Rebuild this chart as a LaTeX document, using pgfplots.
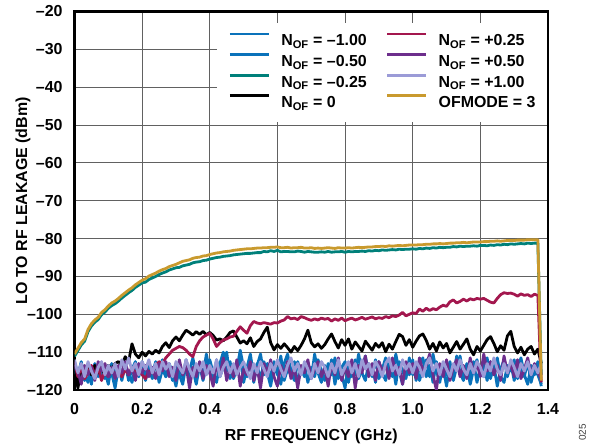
\documentclass[border=0pt]{standalone}
\usepackage{fontspec}
\setmainfont{Liberation Sans}
\usepackage{pgfplots}
\usepackage{pgfplotstable}
\pgfplotsset{compat=1.18}

\definecolor{cblue}{HTML}{0A72BA}
\definecolor{cteal}{HTML}{00807A}
\definecolor{cred}{HTML}{A3174E}
\definecolor{cpurple}{HTML}{6D2E8C}
\definecolor{clav}{HTML}{9B9BD7}
\definecolor{cgold}{HTML}{C99A2E}

% LO-to-RF leakage (dBm) versus RF frequency (GHz), one column per N_OF setting
\pgfplotstableread{
f    m100   m050   m025   z      p025   p050   p100   of3
0.00 -113.5 -114.0 -111.1 -113.0 -112.5 -113.5 -112.0 -110.5
0.01 -116.0 -117.5 -109.6 -119.5 -116.5 -115.0 -115.5 -109.0
0.02 -112.5 -113.0 -108.1 -114.5 -114.0 -118.5 -113.0 -107.5
0.03 -117.5 -115.5 -107.1 -116.5 -117.0 -113.5 -116.5 -106.5
0.04 -114.0 -118.0 -104.6 -114.0 -115.5 -116.0 -112.5 -104.0
0.05 -118.5 -114.5 -103.1 -116.0 -113.5 -114.0 -115.0 -102.5
0.06 -113.0 -116.5 -102.1 -113.5 -116.0 -117.5 -117.0 -101.5
0.07 -116.5 -113.5 -101.4 -115.5 -114.0 -112.5 -114.0 -100.8
0.08 -114.5 -117.0 -100.1 -114.0 -117.5 -115.0 -112.5 -99.5
0.09 -117.0 -115.0 -99.4  -116.0 -115.0 -113.0 -116.0 -98.8
0.10 -113.5 -118.5 -98.4  -113.5 -116.5 -116.5 -113.5 -97.8
0.11 -115.5 -113.0 -97.7  -114.5 -114.5 -114.0 -115.5 -97.0
0.12 -119.5 -116.0 -97.2  -113.0 -116.0 -117.0 -113.0 -96.5
0.13 -114.0 -114.0 -96.5  -112.5 -115.0 -113.5 -116.5 -95.8
0.14 -116.5 -117.5 -95.7  -113.5 -116.5 -115.5 -112.0 -95.0
0.15 -113.0 -113.5 -95.0  -111.2 -114.5 -112.5 -114.5 -94.3
0.16 -117.5 -115.5 -94.3  -112.5 -116.0 -116.0 -111.5 -93.6
0.17 -114.5 -118.0 -93.7  -107.8 -114.0 -114.0 -115.0 -93.0
0.18 -112.5 -114.0 -92.9  -110.5 -115.5 -117.5 -113.0 -92.2
0.19 -116.0 -116.5 -92.3  -111.5 -114.5 -113.0 -116.0 -91.6
0.20 -114.0 -112.5 -91.7  -110.0 -116.0 -115.5 -112.5 -91.0
0.21 -117.5 -116.0 -91.5  -111.0 -117.0 -113.5 -114.5 -90.6
0.22 -113.5 -114.5 -90.8  -109.8 -115.0 -116.5 -112.0 -89.9
0.23 -116.0 -117.0 -90.4  -110.5 -115.5 -114.0 -115.5 -89.5
0.24 -112.5 -113.0 -90.0  -109.5 -113.5 -117.0 -113.0 -89.1
0.25 -118.0 -115.5 -89.5  -110.2 -112.5 -113.0 -116.0 -88.6
0.26 -114.5 -112.0 -89.1  -108.5 -113.0 -115.0 -112.5 -88.2
0.27 -116.5 -116.5 -88.8  -107.5 -111.5 -112.5 -114.5 -87.9
0.28 -113.0 -114.0 -88.3  -108.8 -110.5 -116.5 -113.0 -87.4
0.29 -115.5 -117.5 -88.0  -107.0 -109.5 -114.0 -116.5 -87.1
0.30 -119.0 -113.5 -87.7  -106.0 -109.0 -117.5 -112.5 -86.8
0.31 -114.0 -116.0 -87.6  -107.0 -108.5 -112.0 -114.0 -86.4
0.32 -116.5 -118.5 -87.2  -105.5 -108.8 -116.0 -115.5 -86.0
0.33 -112.0 -113.0 -87.0  -104.2 -109.5 -113.5 -112.0 -85.8
0.34 -117.0 -115.0 -86.8  -104.8 -110.5 -119.5 -114.5 -85.6
0.35 -114.5 -111.5 -86.4  -105.5 -111.2 -114.0 -116.5 -85.2
0.36 -118.5 -116.0 -86.2  -104.6 -108.5 -116.5 -113.0 -85.0
0.37 -113.5 -113.5 -86.1  -105.3 -107.0 -112.5 -115.0 -84.9
0.38 -116.0 -117.5 -85.8  -104.5 -106.0 -117.0 -112.5 -84.6
0.39 -110.5 -114.0 -85.7  -105.4 -105.5 -113.5 -116.0 -84.5
0.40 -115.5 -112.0 -85.4  -104.8 -105.0 -115.5 -113.5 -84.2
0.41 -117.5 -115.5 -85.2  -105.6 -106.5 -119.0 -115.5 -84.0
0.42 -112.0 -118.0 -85.0  -106.8 -108.5 -113.0 -112.0 -83.8
0.43 -116.5 -113.0 -84.9  -106.5 -107.5 -116.0 -116.5 -83.7
0.44 -114.0 -110.0 -84.7  -107.0 -106.8 -111.5 -114.0 -83.5
0.45 -110.0 -115.0 -84.6  -106.0 -106.5 -117.5 -112.5 -83.4
0.46 -117.0 -112.5 -84.5  -104.8 -106.0 -114.0 -115.5 -83.3
0.47 -113.5 -117.0 -84.3  -104.4 -105.8 -116.5 -113.0 -83.1
0.48 -116.0 -114.5 -84.2  -106.0 -104.5 -112.0 -116.0 -83.0
0.49 -111.5 -109.5 -84.1  -107.6 -103.3 -119.0 -114.0 -82.9
0.50 -118.0 -114.0 -84.0  -107.0 -104.2 -114.5 -112.5 -82.8
0.51 -114.0 -116.5 -83.9  -107.8 -105.0 -116.0 -115.0 -82.7
0.52 -110.5 -112.0 -83.9  -106.2 -103.0 -112.5 -117.0 -82.7
0.53 -116.5 -118.0 -83.8  -108.5 -101.9 -117.5 -113.0 -82.6
0.54 -113.0 -113.5 -83.7  -107.2 -102.3 -114.0 -115.5 -82.5
0.55 -117.5 -110.5 -83.7  -106.5 -102.5 -119.5 -112.5 -82.5
0.56 -112.5 -116.0 -83.4  -104.8 -102.2 -113.0 -114.5 -82.4
0.57 -115.5 -113.0 -83.5  -103.4 -102.4 -115.5 -116.5 -82.4
0.58 -119.0 -117.0 -83.2  -107.5 -102.6 -112.0 -113.0 -82.3
0.59 -113.5 -112.5 -83.4  -109.4 -102.2 -116.5 -115.0 -82.3
0.60 -116.0 -115.5 -83.1  -108.0 -102.3 -119.0 -112.0 -82.2
0.61 -111.0 -118.5 -83.5  -109.0 -101.8 -113.5 -114.5 -82.4
0.62 -117.5 -113.0 -83.4  -107.8 -101.5 -116.0 -116.5 -82.4
0.63 -114.5 -110.5 -83.4  -108.8 -100.6 -112.5 -113.5 -82.3
0.64 -116.0 -115.0 -83.5  -110.0 -101.2 -117.0 -111.5 -82.5
0.65 -112.5 -117.5 -83.5  -108.5 -101.0 -114.0 -115.0 -82.4
0.66 -118.5 -112.5 -83.3  -109.6 -101.4 -119.5 -113.0 -82.4
0.67 -114.0 -116.0 -83.4  -108.2 -100.6 -113.5 -116.0 -82.3
0.68 -116.5 -113.5 -83.6  -106.5 -100.9 -115.5 -112.5 -82.5
0.69 -113.0 -118.0 -83.4  -104.2 -101.3 -112.0 -114.5 -82.5
0.70 -117.0 -114.0 -83.5  -107.5 -101.6 -117.0 -117.0 -82.4
0.71 -110.5 -116.5 -83.6  -108.6 -101.2 -114.5 -113.0 -82.6
0.72 -115.5 -112.0 -83.6  -107.8 -101.5 -112.5 -115.5 -82.5
0.73 -118.0 -115.0 -83.5  -109.0 -101.0 -116.5 -112.5 -82.6
0.74 -113.5 -117.5 -83.6  -108.0 -101.3 -114.0 -114.0 -82.5
0.75 -116.5 -113.0 -83.4  -106.5 -101.1 -119.0 -116.5 -82.4
0.76 -112.0 -116.0 -83.6  -105.2 -101.8 -113.0 -113.0 -82.5
0.77 -118.5 -111.5 -83.5  -107.2 -101.2 -116.0 -115.5 -82.6
0.78 -114.0 -117.0 -83.5  -108.9 -101.6 -111.5 -112.0 -82.4
0.79 -116.0 -114.0 -83.4  -106.7 -101.0 -117.5 -116.0 -82.5
0.80 -119.5 -112.5 -83.6  -108.2 -101.7 -114.0 -114.0 -82.5
0.81 -113.0 -118.0 -83.4  -106.5 -101.3 -116.5 -112.5 -82.4
0.82 -116.5 -113.5 -83.5  -109.2 -101.0 -112.0 -115.5 -82.5
0.83 -112.0 -116.0 -83.4  -107.3 -101.5 -119.5 -113.0 -82.4
0.84 -117.0 -110.5 -83.4  -108.5 -101.2 -113.5 -116.5 -82.3
0.85 -114.5 -115.5 -83.3  -109.7 -100.8 -115.5 -112.0 -82.4
0.86 -111.0 -117.5 -83.4  -107.1 -101.3 -111.0 -114.5 -82.3
0.87 -116.0 -113.0 -83.2  -108.3 -101.0 -116.5 -113.0 -82.2
0.88 -113.5 -116.5 -83.3  -109.5 -100.7 -113.0 -116.0 -82.2
0.89 -118.0 -112.0 -83.1  -107.7 -101.2 -117.5 -112.5 -82.1
0.90 -112.5 -117.0 -83.2  -108.7 -100.9 -112.5 -114.0 -82.1
0.91 -115.5 -114.5 -83.0  -107.5 -101.1 -115.0 -116.5 -82.0
0.92 -117.5 -111.5 -83.1  -109.9 -100.6 -113.5 -113.0 -82.1
0.93 -113.0 -116.5 -83.0  -107.9 -100.9 -117.0 -111.5 -81.9
0.94 -116.5 -113.0 -82.9  -109.2 -100.4 -111.5 -115.0 -82.0
0.95 -110.5 -118.5 -83.0  -107.2 -100.6 -116.0 -113.5 -81.9
0.96 -115.0 -112.5 -82.8  -105.3 -100.2 -114.0 -116.0 -81.8
0.97 -118.5 -115.0 -82.9  -105.9 -99.5  -118.5 -112.0 -81.9
0.98 -113.0 -117.0 -82.8  -108.2 -100.4 -112.5 -114.5 -81.8
0.99 -116.0 -111.5 -82.8  -106.7 -100.0 -115.5 -113.0 -81.7
1.00 -112.0 -116.0 -82.7  -108.7 -99.6  -113.0 -115.5 -81.7
1.01 -117.5 -113.0 -82.8  -107.1 -99.8  -117.0 -112.5 -81.7
1.02 -114.0 -117.5 -82.6  -105.7 -98.6  -111.5 -114.0 -81.6
1.03 -111.5 -114.5 -82.7  -105.2 -99.2  -115.0 -116.5 -81.6
1.04 -116.5 -112.0 -82.5  -106.9 -98.4  -113.5 -113.0 -81.5
1.05 -113.5 -116.5 -82.6  -109.2 -99.0  -110.5 -111.5 -81.5
1.06 -118.0 -110.5 -82.4  -107.7 -98.5  -116.0 -115.0 -81.4
1.07 -112.5 -115.0 -82.5  -109.7 -98.8  -120.0 -113.0 -81.4
1.08 -116.0 -118.0 -82.3  -107.3 -98.1  -113.0 -116.0 -81.3
1.09 -114.0 -113.0 -82.4  -108.9 -97.6  -116.5 -112.5 -81.4
1.10 -119.0 -116.0 -82.3  -107.7 -97.9  -112.0 -114.5 -81.3
1.11 -113.5 -112.5 -82.3  -110.2 -96.7  -117.5 -116.5 -81.2
1.12 -116.5 -117.5 -82.1  -108.7 -96.2  -114.0 -113.0 -81.2
1.13 -111.0 -114.0 -82.2  -107.2 -97.0  -112.0 -115.0 -81.1
1.14 -115.5 -111.0 -82.0  -109.2 -96.6  -116.5 -112.0 -81.1
1.15 -117.5 -116.5 -82.1  -107.9 -96.0  -113.5 -114.5 -81.0
1.16 -113.0 -113.5 -82.0  -106.5 -96.5  -117.0 -116.0 -81.1
1.17 -116.5 -118.5 -82.0  -109.2 -95.9  -111.5 -113.0 -81.0
1.18 -112.5 -114.5 -81.9  -110.7 -96.2  -115.5 -115.5 -80.9
1.19 -118.0 -112.0 -82.0  -108.5 -95.8  -113.0 -112.5 -80.9
1.20 -114.0 -116.0 -81.8  -109.7 -96.0  -116.5 -114.0 -80.9
1.21 -116.5 -113.0 -81.8  -108.2 -95.8  -110.5 -116.5 -80.8
1.22 -111.5 -117.5 -81.9  -106.7 -96.3  -115.0 -113.0 -80.8
1.23 -117.0 -112.5 -81.7  -105.9 -96.8  -112.5 -115.0 -80.7
1.24 -113.5 -115.5 -81.8  -107.7 -97.0  -116.0 -111.5 -80.7
1.25 -119.0 -111.5 -81.6  -109.9 -95.8  -113.5 -114.5 -80.6
1.26 -114.5 -116.5 -81.7  -108.3 -94.8  -117.5 -116.0 -80.7
1.27 -112.0 -118.0 -81.5  -109.5 -94.3  -111.0 -113.0 -80.6
1.28 -116.5 -113.5 -81.6  -105.7 -94.5  -115.5 -115.5 -80.5
1.29 -113.0 -115.0 -81.4  -104.5 -94.4  -113.0 -112.0 -80.5
1.30 -117.5 -112.0 -81.5  -108.5 -94.7  -116.5 -114.0 -80.5
1.31 -114.5 -117.0 -81.4  -110.2 -95.2  -112.0 -116.5 -80.4
1.32 -111.5 -114.0 -81.3  -108.7 -94.6  -117.0 -113.0 -80.4
1.33 -116.0 -116.5 -81.4  -110.7 -95.0  -114.5 -115.0 -80.4
1.34 -118.5 -112.5 -81.2  -109.2 -94.8  -111.5 -112.5 -80.3
1.35 -113.5 -118.0 -81.3  -108.5 -95.3  -116.0 -116.0 -80.3
1.36 -116.0 -114.5 -81.2  -110.5 -94.7  -113.0 -113.5 -80.3
1.37 -112.5 -116.0 -81.2  -109.2 -95.0  -115.5 -115.5 -80.3
1.38 -119.0 -118.5 -116.0 -113.0 -118.0 -117.0 -113.0 -117.5
}\leakage

\begin{document}
\begin{tikzpicture}[font=\fontsize{16}{19}\selectfont\bfseries]
\begin{axis}[
  at={(0,0)}, anchor=south west,
  scale only axis, width=473.5bp, height=378.5bp,
  xmin=0, xmax=1.4, ymin=-120, ymax=-20,
  xtick={0,0.2,0.4,0.6,0.8,1.0,1.2,1.4},
  xticklabels={0,0.2,0.4,0.6,0.8,1.0,1.2,1.4},
  ytick={-120,-110,-100,-90,-80,-70,-60,-50,-40,-30,-20},
  yticklabels={–120,–110,–100,–90,–80,–70,–60,–50,–40,–30,–20},
  major tick length=0pt,
  grid=major,
  major grid style={line width=1bp, black!62},
  axis line style={line width=2.5bp, black},
  tick label style={font=\fontsize{16}{19}\selectfont\bfseries},
  xticklabel style={anchor=north, inner sep=0pt, yshift=-13bp},
  yticklabel style={anchor=east, inner sep=0pt, xshift=-11.8bp},
  xlabel={RF FREQUENCY (GHz)},
  ylabel={LO TO RF LEAKAGE (dBm)},
  xlabel style={at={(rel axis cs:0.5,-0.1334)}, anchor=base, inner sep=0pt},
  ylabel style={at={(rel axis cs:-0.1003,0.5)}, anchor=base, inner sep=0pt},
  label style={font=\fontsize{16}{19}\selectfont\bfseries},
  every axis plot/.append style={line width=2.8bp, line join=round},
  legend columns=4, transpose legend, legend cell align=left,
  legend image code/.code={\draw[#1] (0bp,8.5bp) -- (39bp,8.5bp);},
  legend style={
    at={(rel axis cs:0.3015,0.97)}, anchor=north west,
    draw=none, fill=white,
    inner xsep=11bp, inner ysep=9.5bp,
    font=\fontsize{16}{19}\selectfont\bfseries,
    row sep=2.2bp,
    /tikz/every odd column/.append style={column sep=11bp},
    /tikz/every even column/.append style={column sep=19bp},
    nodes={inner sep=0pt, text height=12bp, text depth=5bp},
  },
]
\addplot[cblue]   table[x=f, y=m100] {\leakage};
\addlegendentry{N\textsubscript{OF} = –1.00}
\addplot[cblue]   table[x=f, y=m050] {\leakage};
\addlegendentry{N\textsubscript{OF} = –0.50}
\addplot[cteal]   table[x=f, y=m025] {\leakage};
\addlegendentry{N\textsubscript{OF} = –0.25}
\addplot[black]   table[x=f, y=z]    {\leakage};
\addlegendentry{N\textsubscript{OF} = 0}
\addplot[cred]    table[x=f, y=p025] {\leakage};
\addlegendentry{N\textsubscript{OF} = +0.25}
\addplot[cpurple] table[x=f, y=p050] {\leakage};
\addlegendentry{N\textsubscript{OF} = +0.50}
\addplot[clav]    table[x=f, y=p100] {\leakage};
\addlegendentry{N\textsubscript{OF} = +1.00}
\addplot[cgold]   table[x=f, y=of3]  {\leakage};
\addlegendentry{OFMODE = 3}
\end{axis}
\node[rotate=90, font=\fontsize{10}{12}\selectfont, text=black!75, inner sep=0pt] at (508bp,-42.5bp) {025};
\pgfresetboundingbox
\path[use as bounding box] (-74.5bp,-56bp) rectangle (520.5bp,390bp);
\end{tikzpicture}
\end{document}
